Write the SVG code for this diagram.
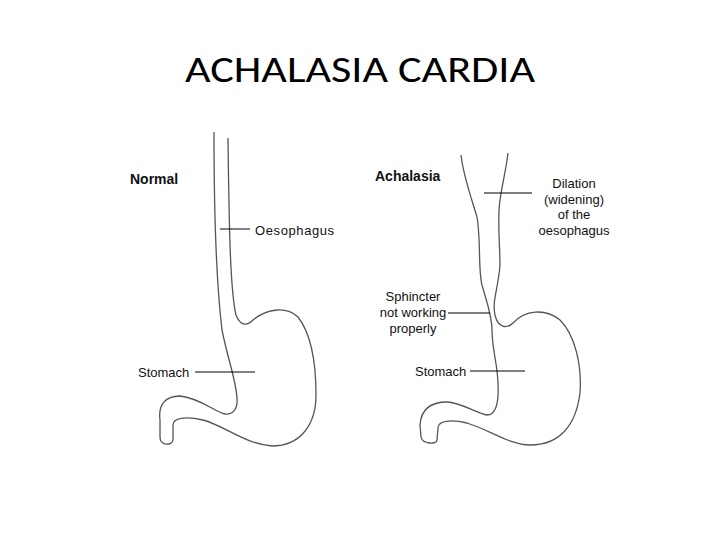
<svg xmlns="http://www.w3.org/2000/svg" width="720" height="540" viewBox="0 0 720 540">
<style>
.o{fill:none;stroke:#555;stroke-width:1.3}
.l{stroke:#000;stroke-width:1}
.t{font-family:"Liberation Sans",Arial,sans-serif;font-size:13px;fill:#111}
.b{font-family:"Liberation Sans",Arial,sans-serif;font-size:14px;font-weight:bold;fill:#111}
</style>
<rect width="720" height="540" fill="#fff"/>
<text x="360" y="82" text-anchor="middle" font-family="Carlito,'Liberation Sans',sans-serif" font-size="36" textLength="350" lengthAdjust="spacingAndGlyphs">ACHALASIA CARDIA</text>
<g id="normal">
<path class="o" d="M214,132 C214,200 216,280 222,330 C228,360 236,380 237,398 C238,410 232,415 225,414 C215,412 200,398 180,396 C165,396 158,405 160,420 L160,437 C160,446 172,446 173,440 L173,425 C173,418 185,416 203,420 C225,426 245,444 272,446 C300,446 316,425 316,395 C316,365 312,335 298,317 C285,305 265,310 253,320 C246,327 240,325 236,315 C230,290 229,220 228,138"/>
</g>
<g id="achalasia">
<path class="o" d="M461,155 C463,175 472,200 477,217 C481,240 478,270 482,285 C486,300 492,315 492,330 C492,350 498,365 498,385 C499,405 495,415 487,415 C478,414 460,402 447,402 C430,402 421,410 420,425 L421,437 C422,444 437,445 437,440 L438,428 C438,421 450,419 467,423 C490,430 510,445 530,445 C560,445 576,425 580,393 C582,365 575,335 560,320 C545,308 525,310 513,323 C507,329 498,328 495,315 C492,300 498,290 500,265 C500,245 497,220 500,200 C502,185 506,170 508,153"/>
</g>
<g id="labels">
<text class="b" x="130" y="184">Normal</text>
<text class="b" x="375" y="181">Achalasia</text>
<text class="t" x="255" y="235" letter-spacing="0.6">Oesophagus</text>
<text class="t" x="138" y="377">Stomach</text>
<text class="t" x="415" y="376">Stomach</text>
<g class="t" text-anchor="middle">
<text x="574" y="188">Dilation</text>
<text x="574" y="204">(widening)</text>
<text x="574" y="219">of the</text>
<text x="574" y="235">oesophagus</text>
<text x="413" y="301">Sphincter</text>
<text x="413" y="317">not working</text>
<text x="413" y="333">properly</text>
</g>
</g>
<g id="connectors">
<line class="l" x1="220" y1="229" x2="250" y2="229"/>
<line class="l" x1="195" y1="372" x2="255" y2="372"/>
<line class="l" x1="484" y1="193" x2="532" y2="193"/>
<line class="l" x1="448" y1="313" x2="490" y2="313"/>
<line class="l" x1="470" y1="371" x2="525" y2="371"/>
</g>
</svg>
